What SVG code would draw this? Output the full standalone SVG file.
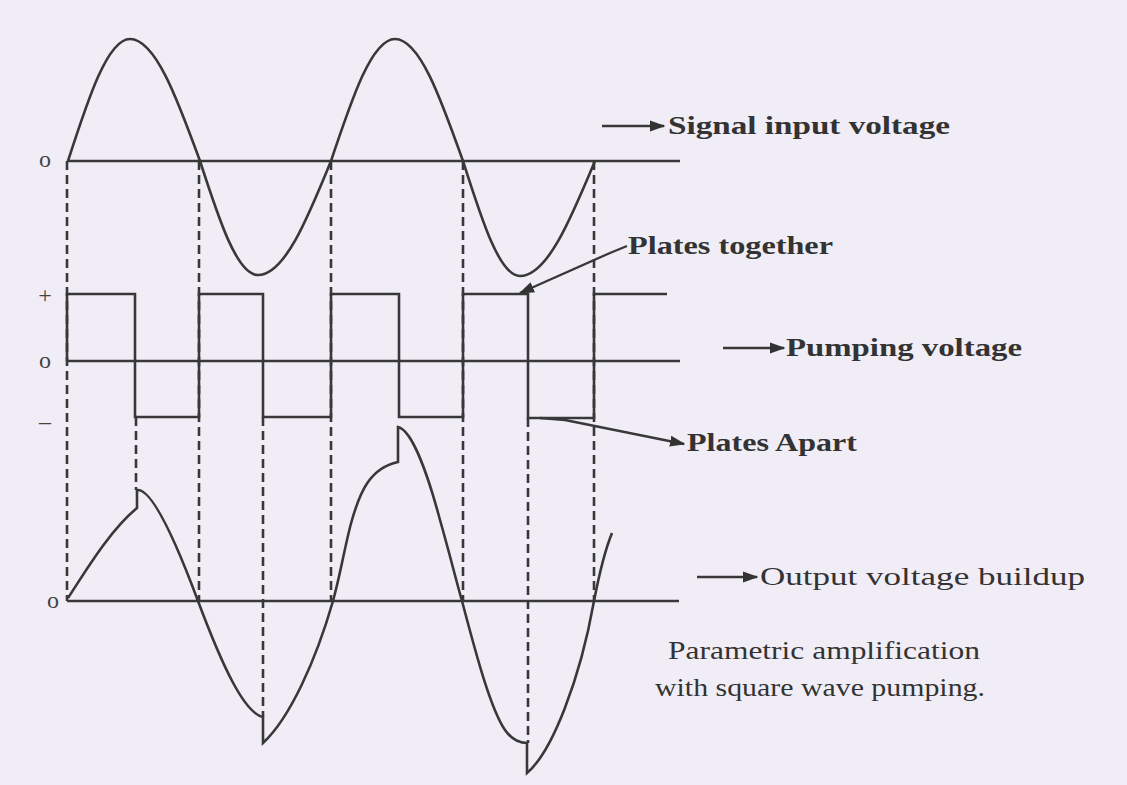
<svg xmlns="http://www.w3.org/2000/svg" width="1127" height="785" viewBox="0 0 1127 785">
<defs>
<style>
.bg{fill:#f1edf6}
.wave{fill:none;stroke:#383838;stroke-width:2.6;stroke-linejoin:miter}
.axis{fill:none;stroke:#383838;stroke-width:2.6}
.dash{fill:none;stroke:#383838;stroke-width:2.6;stroke-dasharray:9 5}
.lead{fill:none;stroke:#383838;stroke-width:2.4}
.lbl{font-family:"Liberation Serif",serif;font-weight:bold;font-size:25px;fill:#333}
.cap{font-family:"Liberation Serif",serif;font-size:25px;fill:#333}
.tick{font-family:"Liberation Serif",serif;font-size:24px;fill:#444;text-anchor:middle}
</style>
<marker id="ah" viewBox="0 0 10 10" refX="9" refY="5" markerWidth="6.5" markerHeight="6.5" orient="auto" markerUnits="strokeWidth">
<path d="M0,1.5 L10,5 L0,8.5 z" fill="#333"/>
</marker>
</defs>
<rect class="bg" x="0" y="0" width="1127" height="785"/>

<g id="connectors">
<line class="dash" x1="67" y1="161" x2="67" y2="601"/>
<line class="dash" x1="199" y1="161" x2="199" y2="601"/>
<line class="dash" x1="331" y1="161" x2="331" y2="601"/>
<line class="dash" x1="463" y1="161" x2="463" y2="601"/>
<line class="dash" x1="594" y1="161" x2="594" y2="601"/>
<line class="dash" x1="136" y1="417" x2="136" y2="490"/>
<line class="dash" x1="263" y1="417" x2="263" y2="717"/>
<line class="dash" x1="528" y1="418" x2="528" y2="743"/>
<line class="lead" x1="602" y1="126" x2="664" y2="126" marker-end="url(#ah)"/>
<line class="lead" x1="723" y1="348" x2="784" y2="348" marker-end="url(#ah)"/>
<line class="lead" x1="697" y1="577" x2="757" y2="577" marker-end="url(#ah)"/>
<polyline class="lead" points="627,246 610,253 520,293" marker-end="url(#ah)"/>
<polyline class="lead" points="540,418 565,420 684,444" marker-end="url(#ah)"/>
</g>

<g id="signal">
<line class="axis" x1="67" y1="161" x2="680" y2="161"/>
<path class="wave" d="M68,161 C88.2,98.5 107.6,39 130,39 C155.3,39 177.2,98.5 200,161 C218.9,219.4 237,275 258,275 C284.4,275 307.2,219.4 331,161 C351.9,98.5 371.8,39 395,39 C419.6,39 440.8,98.5 463,161 C481.6,219.4 499.4,276 520,276 C547.2,276 570.6,219.4 595,161"/>
<text class="tick" x="45" y="167">o</text>
<text class="lbl" x="668" y="134" textLength="282" lengthAdjust="spacingAndGlyphs">Signal input voltage</text>
</g>

<g id="pumping">
<line class="axis" x1="67" y1="361" x2="680" y2="361"/>
<path class="wave" d="M67,361 L67,294 L135,294 L135,417 L199,417 L199,294 L263,294 L263,417 L331,417 L331,294 L399,294 L399,417 L463,417 L463,294 L528,294 L528,418 L594,418 L594,294 L667,294"/>
<text class="tick" x="45" y="303">+</text>
<text class="tick" x="45" y="368">o</text>
<text class="tick" x="45" y="429">–</text>
<text class="lbl" x="628" y="254" textLength="205" lengthAdjust="spacingAndGlyphs">Plates together</text>
<text class="lbl" x="786" y="356" textLength="236" lengthAdjust="spacingAndGlyphs">Pumping voltage</text>
<text class="lbl" x="687" y="451" textLength="170" lengthAdjust="spacingAndGlyphs">Plates Apart</text>
</g>

<g id="output">
<line class="axis" x1="67" y1="601" x2="679" y2="601"/>
<path class="wave" d="M68,598 C85,572 110,530 137,508 L137,490 C152,488 176,542 198,601 C222,665 244,713 263,717 L263,743 C290,718 316,660 333,601 C341,572 346,540 352,520 C360,492 370,468 398,462 L398,427 C412,430 428,475 440,520 C450,555 456,580 462,601 C475,650 490,708 505,730 C512,740 520,743 527,743 L527,773 C552,752 580,680 594,601 C600,570 605,550 612,533"/>
<text class="tick" x="53" y="608">o</text>
<text class="cap" x="760" y="585" textLength="325" lengthAdjust="spacingAndGlyphs">Output voltage buildup</text>
</g>

<g id="caption">
<text class="cap" x="668" y="659" textLength="312" lengthAdjust="spacingAndGlyphs">Parametric amplification</text>
<text class="cap" x="655" y="696" textLength="330" lengthAdjust="spacingAndGlyphs">with square wave pumping.</text>
</g>
</svg>
